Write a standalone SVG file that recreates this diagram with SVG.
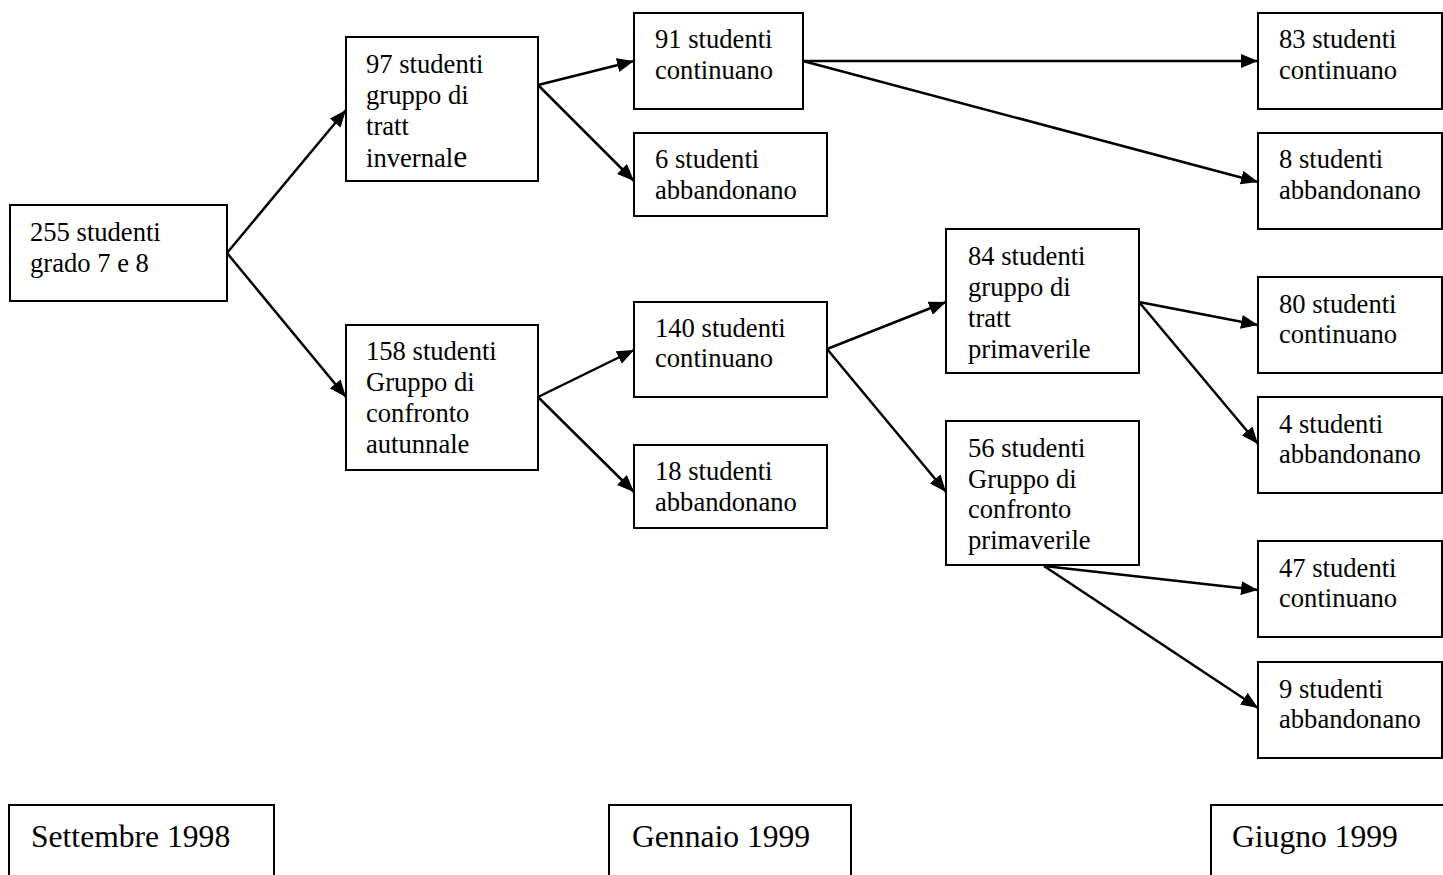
<svg xmlns="http://www.w3.org/2000/svg" width="1443" height="875" viewBox="0 0 1443 875">
<defs>
<style>
.box{fill:#fff;stroke:#000;stroke-width:2}
.c{stroke:#000;stroke-width:2.5;fill:none;marker-end:url(#ah)}
</style>
<marker id="ah" markerUnits="userSpaceOnUse" markerWidth="17" markerHeight="14" refX="17" refY="7" orient="auto">
<path d="M0,0 L17,7 L0,14 z" fill="#000"/>
</marker>
</defs>
<rect width="1443" height="875" fill="#fff"/>
<g id="connectors">
<line class="c" x1="227" y1="253" x2="346" y2="110"/>
<line class="c" x1="227" y1="253" x2="346" y2="397"/>
<line class="c" x1="538" y1="85" x2="634" y2="61"/>
<line class="c" x1="538" y1="85" x2="634" y2="181"/>
<line class="c" x1="803" y1="61" x2="1258" y2="61"/>
<line class="c" x1="803" y1="61" x2="1258" y2="182"/>
<line class="c" x1="538" y1="397" x2="634" y2="350"/>
<line class="c" x1="538" y1="397" x2="634" y2="492"/>
<line class="c" x1="827" y1="349" x2="946" y2="302"/>
<line class="c" x1="827" y1="349" x2="946" y2="492"/>
<line class="c" x1="1139" y1="302" x2="1258" y2="325"/>
<line class="c" x1="1139" y1="302" x2="1258" y2="444"/>
<line class="c" x1="1044" y1="566" x2="1258" y2="590"/>
<line class="c" x1="1044" y1="566" x2="1258" y2="708"/>
</g>
<g font-family="'Liberation Serif', 'Times New Roman', serif" font-size="26.6" fill="#000">
<g id="n255"><rect class="box" x="10" y="205" width="217" height="96"/>
<text x="30" y="241">255 studenti</text><text x="30" y="272">grado 7 e 8</text></g>
<g id="n97"><rect class="box" x="346" y="37" width="192" height="144"/>
<text x="366" y="73">97 studenti</text><text x="366" y="104">gruppo di</text><text x="366" y="135">tratt</text><text x="366" y="167">invernal<tspan font-size="31.6">e</tspan></text></g>
<g id="n158"><rect class="box" x="346" y="325" width="192" height="145"/>
<text x="366" y="360">158 studenti</text><text x="366" y="391">Gruppo di</text><text x="366" y="422">confronto</text><text x="366" y="453">autunnale</text></g>
<g id="n91"><rect class="box" x="634" y="13" width="169" height="96"/>
<text x="655" y="48">91 studenti</text><text x="655" y="79">continuano</text></g>
<g id="n6"><rect class="box" x="634" y="133" width="193" height="83"/>
<text x="655" y="168">6 studenti</text><text x="655" y="199">abbandonano</text></g>
<g id="n140"><rect class="box" x="634" y="302" width="193" height="95"/>
<text x="655" y="337">140 studenti</text><text x="655" y="367">continuano</text></g>
<g id="n18"><rect class="box" x="634" y="445" width="193" height="83"/>
<text x="655" y="480">18 studenti</text><text x="655" y="511">abbandonano</text></g>
<g id="n84"><rect class="box" x="946" y="229" width="193" height="144"/>
<text x="968" y="265">84 studenti</text><text x="968" y="296">gruppo di</text><text x="968" y="327">tratt</text><text x="968" y="358">primaverile</text></g>
<g id="n56"><rect class="box" x="946" y="421" width="193" height="144"/>
<text x="968" y="457">56 studenti</text><text x="968" y="488">Gruppo di</text><text x="968" y="518">confronto</text><text x="968" y="549">primaverile</text></g>
<g id="n83"><rect class="box" x="1258" y="13" width="184" height="96"/>
<text x="1279" y="48">83 studenti</text><text x="1279" y="79">continuano</text></g>
<g id="n8"><rect class="box" x="1258" y="133" width="184" height="96"/>
<text x="1279" y="168">8 studenti</text><text x="1279" y="199">abbandonano</text></g>
<g id="n80"><rect class="box" x="1258" y="277" width="184" height="96"/>
<text x="1279" y="313">80 studenti</text><text x="1279" y="343">continuano</text></g>
<g id="n4"><rect class="box" x="1258" y="397" width="184" height="96"/>
<text x="1279" y="433">4 studenti</text><text x="1279" y="463">abbandonano</text></g>
<g id="n47"><rect class="box" x="1258" y="541" width="184" height="96"/>
<text x="1279" y="577">47 studenti</text><text x="1279" y="607">continuano</text></g>
<g id="n9"><rect class="box" x="1258" y="662" width="184" height="96"/>
<text x="1279" y="698">9 studenti</text><text x="1279" y="728">abbandonano</text></g>
<g id="lab-set"><rect class="box" x="9" y="805" width="265" height="80"/>
<text x="31" y="847" font-size="31.6">Settembre 1998</text></g>
<g id="lab-gen"><rect class="box" x="609" y="805" width="242" height="80"/>
<text x="632" y="847" font-size="31.6">Gennaio 1999</text></g>
<g id="lab-giu"><rect class="box" x="1211" y="805" width="240" height="80"/>
<text x="1232" y="847" font-size="31.6">Giugno 1999</text></g>
</g>
</svg>
